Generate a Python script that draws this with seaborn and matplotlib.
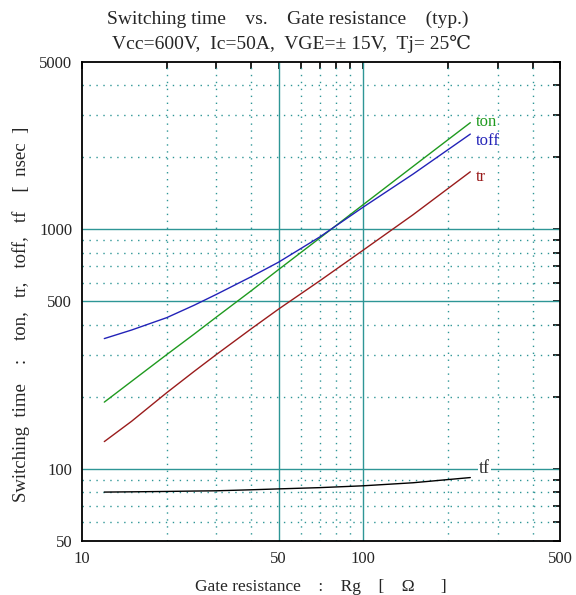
import numpy as np
import pandas as pd
import matplotlib
matplotlib.use("Agg")
import matplotlib.pyplot as plt
import seaborn as sns
from matplotlib.ticker import FixedLocator, NullFormatter, FixedFormatter

# Values (Rg in ohm, times in nsec)
rg = [12, 15, 20, 25, 30, 40, 50, 70, 100, 150, 240]
t_on = [190, 232, 300, 365, 430, 555, 680, 920, 1270, 1830, 2790]
t_off = [350, 380, 428, 482, 535, 635, 730, 930, 1240, 1700, 2500]
t_r = [130, 158, 208, 255, 300, 385, 465, 610, 820, 1150, 1740]
t_f = [80, 80.2, 80.5, 80.8, 81, 81.8, 82.5, 83.5, 85, 87.5, 92]

series_names = ["ton", "toff", "tr", "tf"]
series_colors = ["#1f9a1f", "#2323b8", "#9a1c1c", "#000000"]

x_major = [10, 50, 100, 500]
x_minor = [20, 30, 40, 60, 70, 80, 90, 200, 300, 400]
y_major = [50, 100, 500, 1000, 5000]
y_minor = [60, 70, 80, 90, 200, 300, 400, 600, 700, 800, 900, 2000, 3000, 4000]

sns.set_style("white")
plt.rcParams["font.family"] = ["Liberation Serif", "DejaVu Serif", "DejaVu Sans"]

df = pd.DataFrame({"Rg": rg, "ton": t_on, "toff": t_off, "tr": t_r, "tf": t_f})
long_df = df.melt(id_vars="Rg", var_name="series", value_name="time")

fig = plt.figure(figsize=(5.76, 5.95), dpi=100)
ax = fig.add_axes([0.1424, 0.0908, 0.9722 - 0.1424, 0.8958 - 0.0908])

grid_col = "#2e9696"

# grid: dotted minor, solid major
for v in y_minor:
    ax.axhline(v, color=grid_col, lw=1.0, ls=(0, (1, 4)), zorder=1)
for v in x_minor:
    ax.axvline(v, color=grid_col, lw=1.0, ls=(0, (1, 4)), zorder=1)
for v in [100, 500, 1000]:
    ax.axhline(v, color=grid_col, lw=1.0, zorder=1)
for v in [50, 100]:
    ax.axvline(v, color=grid_col, lw=1.0, zorder=1)

sns.lineplot(data=long_df, x="Rg", y="time", hue="series",
             hue_order=series_names, palette=dict(zip(series_names, series_colors)),
             lw=1.0, legend=False, ax=ax, zorder=3)

ax.set_xscale("log")
ax.set_yscale("log")
ax.set_xlim(10, 500)
ax.set_ylim(50, 5000)

ax.xaxis.set_major_locator(FixedLocator(x_major))
ax.xaxis.set_major_formatter(FixedFormatter([str(v) for v in x_major]))
ax.xaxis.set_minor_locator(FixedLocator(x_minor))
ax.xaxis.set_minor_formatter(NullFormatter())
ax.yaxis.set_major_locator(FixedLocator(y_major))
ax.yaxis.set_major_formatter(FixedFormatter([str(v) for v in y_major]))
ax.yaxis.set_minor_locator(FixedLocator(y_minor))
ax.yaxis.set_minor_formatter(NullFormatter())

ax.tick_params(which="both", direction="in", top=True, right=True,
               length=5, width=1.2, color="black", labelsize=12, pad=7)
for s in ax.spines.values():
    s.set_color("black")
    s.set_linewidth(1.3)

# curve labels at the right end
ax.text(252, 2800, "ton", color=series_colors[0], fontsize=12, va="center")
ax.text(252, 2350, "toff", color=series_colors[1], fontsize=12, va="center")
ax.text(252, 1660, "tr", color=series_colors[2], fontsize=12, va="center")
ax.text(258, 100, "tf", color="#333333", fontsize=13, va="center",
        bbox=dict(facecolor="white", edgecolor="none", pad=0.5), zorder=4)

ax.set_xlabel("Gate resistance    :    Rg    [    Ω      ]", fontsize=12.5, labelpad=9)
ax.set_ylabel("Switching  time    :    ton,   tr,   toff,   tf    [  nsec  ]",
              fontsize=13.5)
ax.yaxis.set_label_coords(-0.108, 0.473)

fig.text(0.5, 0.967, "Switching time    vs.    Gate resistance    (typ.)",
         ha="center", va="center", fontsize=14)
fig.text(0.507, 0.926, "Vcc=600V,  Ic=50A,  VGE=± 15V,  Tj= 25℃",
         ha="center", va="center", fontsize=14)

fig.savefig("out.png", dpi=100)
